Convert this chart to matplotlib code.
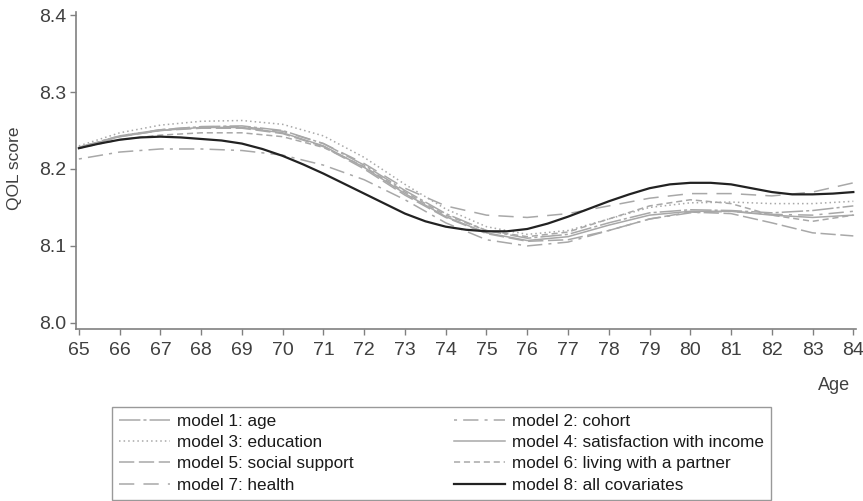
import numpy as np
import matplotlib.pyplot as plt

plt.rcParams['font.family'] = ['Liberation Sans', 'DejaVu Sans']

ages = np.arange(65, 85)

m1 = [8.228, 8.243, 8.251, 8.255, 8.256, 8.250, 8.233, 8.205, 8.172, 8.142,
      8.120, 8.110, 8.115, 8.130, 8.143, 8.147, 8.146, 8.143, 8.146, 8.152]
m2 = [8.213, 8.222, 8.226, 8.226, 8.224, 8.218, 8.205, 8.186, 8.160, 8.130,
      8.108, 8.100, 8.105, 8.120, 8.135, 8.143, 8.145, 8.141, 8.140, 8.145]
m3 = [8.230, 8.247, 8.257, 8.262, 8.263, 8.258, 8.243, 8.215, 8.180, 8.148,
      8.125, 8.115, 8.120, 8.135, 8.150, 8.156, 8.157, 8.155, 8.155, 8.158]
m4 = [8.228, 8.242, 8.250, 8.254, 8.254, 8.247, 8.230, 8.202, 8.168, 8.138,
      8.117, 8.107, 8.112, 8.127, 8.140, 8.145, 8.145, 8.140, 8.137, 8.140]
m5 = [8.227, 8.242, 8.250, 8.253, 8.253, 8.246, 8.229, 8.200, 8.166, 8.137,
      8.116, 8.106, 8.108, 8.120, 8.135, 8.144, 8.142, 8.130, 8.117, 8.113]
m6 = [8.227, 8.238, 8.244, 8.247, 8.247, 8.242, 8.228, 8.203, 8.170, 8.140,
      8.120, 8.112, 8.118, 8.135, 8.152, 8.160, 8.155, 8.140, 8.132, 8.140]
m7 = [8.228, 8.243, 8.251, 8.255, 8.255, 8.249, 8.233, 8.207, 8.175, 8.152,
      8.140, 8.137, 8.142, 8.152, 8.162, 8.168, 8.168, 8.165, 8.170, 8.182]

# model 8 read at half-year steps
ages8 = np.arange(65, 84.5, 0.5)
m8 = [8.227, 8.233, 8.238, 8.241, 8.242, 8.241, 8.239, 8.237, 8.233, 8.226,
      8.217, 8.206, 8.194, 8.181, 8.168, 8.155, 8.142, 8.132, 8.125, 8.121,
      8.119, 8.119, 8.122, 8.129, 8.138, 8.148, 8.158, 8.167, 8.175, 8.180,
      8.182, 8.182, 8.180, 8.175, 8.170, 8.167, 8.167, 8.168, 8.170]

labels = ["model 1: age", "model 2: cohort", "model 3: education",
          "model 4: satisfaction with income", "model 5: social support",
          "model 6: living with a partner", "model 7: health",
          "model 8: all covariates"]
series = [(ages, m1), (ages, m2), (ages, m3), (ages, m4), (ages, m5),
          (ages, m6), (ages, m7), (ages8, m8)]

grey = "#a8a8a8"
styles = [
    dict(color=grey, lw=1.1, ls=(0, (14, 2, 2, 2))),
    dict(color=grey, lw=1.1, ls=(0, (2, 4, 10, 4))),
    dict(color=grey, lw=1.1, ls=(0, (1, 2))),
    dict(color=grey, lw=1.1, ls="-"),
    dict(color=grey, lw=1.1, ls=(0, (10, 3))),
    dict(color=grey, lw=1.1, ls=(0, (4, 2.5))),
    dict(color=grey, lw=1.1, ls=(0, (10, 6))),
    dict(color="#222222", lw=1.6, ls="-"),
]

fig = plt.figure(figsize=(8.63, 5.01), dpi=100)
ax = fig.add_axes([0.0881, 0.3433, 0.904, 0.6327])

lines = []
for (x, y), lab, st in zip(series, labels, styles):
    ln, = ax.plot(x, y, label=lab, **st)
    lines.append(ln)

ax.set_xlim(64.93, 84.07)
ax.set_ylim(7.992, 8.404)
ax.set_xticks(ages)
ax.set_yticks([8.0, 8.1, 8.2, 8.3, 8.4])
ax.set_yticklabels(["8.0", "8.1", "8.2", "8.3", "8.4"])

for s in ["top", "right"]:
    ax.spines[s].set_visible(False)
for s in ["left", "bottom"]:
    ax.spines[s].set_color("#808080")
    ax.spines[s].set_linewidth(1.2)
ax.tick_params(colors="#808080", labelcolor="#404040", labelsize=14, length=4, width=1)
ax.tick_params(axis="x", pad=5)
ax.tick_params(axis="y", pad=3)

fig.text(15 / 863, 1 - 168 / 501, "QOL score", fontsize=12.5, color="#404040",
         rotation=90, ha="center", va="center")
fig.text(834 / 863, 1 - 386 / 501, "Age", fontsize=13, color="#404040",
         ha="center", va="center")

order = [0, 2, 4, 6, 1, 3, 5, 7]
leg = fig.legend([lines[i] for i in order], [labels[i] for i in order],
                 ncol=2, loc="upper left", mode="expand",
                 bbox_to_anchor=(112 / 863, 0, 659 / 863, 1 - 407 / 501),
                 borderaxespad=0, fontsize=12.3, handlelength=3, handletextpad=0.4,
                 labelspacing=0.36, borderpad=0.42, fancybox=False, frameon=True)
leg.get_frame().set_edgecolor("#808080")
leg.get_frame().set_linewidth(1.0)
for t in leg.get_texts():
    t.set_color("#1a1a1a")

fig.savefig("out.png", dpi=100)
